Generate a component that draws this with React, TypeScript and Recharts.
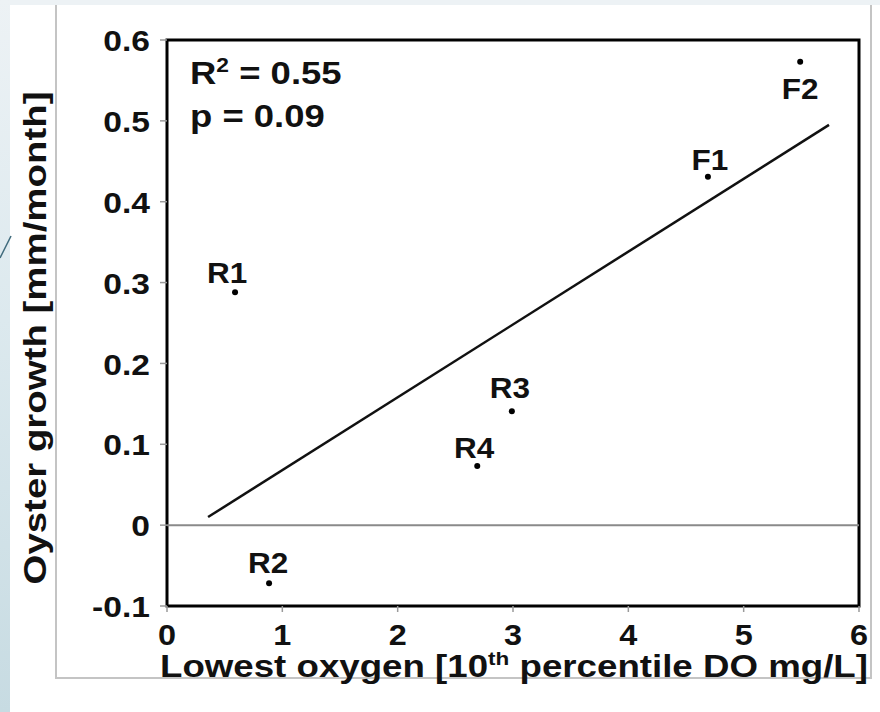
import React from "react";
import { ComposedChart, Scatter, XAxis, YAxis, ReferenceLine, ReferenceArea } from "recharts";

// sites and their values
const sites = ["R1", "R2", "R3", "R4", "F1", "F2"];
const lowestOxygen = [0.59, 0.885, 2.99, 2.69, 4.69, 5.49];
const oysterGrowth = [0.288, -0.072, 0.141, 0.073, 0.431, 0.573];

// least-squares fit line end points
const fitX = [0.356, 5.74];
const fitY = [0.01, 0.495];

const xTicks = [0, 1, 2, 3, 4, 5, 6];
const yTicks = [-0.1, 0, 0.1, 0.2, 0.3, 0.4, 0.5, 0.6];

const rSquared = "0.55";
const pValue = "0.09";

const points = sites.map((name, i) => ({ name, x: lowestOxygen[i], y: oysterGrowth[i] }));

// where each site label sits relative to its dot (dx, dy of baseline)
const labelOffset: Record<string, [number, number]> = {
  R1: [-8, -9],
  R2: [-1, -10],
  R3: [-2, -13],
  R4: [-3, -8],
  F1: [2, -7],
  F2: [0, 37],
};

const FONT = '"Liberation Sans", Arial, sans-serif';

const SiteDot = (props: any) => {
  const { cx, cy, payload } = props;
  const [dx, dy] = labelOffset[payload.name] || [0, -10];
  return (
    <g>
      <circle cx={cx} cy={cy} r={3} fill="#000" />
      <g transform={`translate(${cx + dx},${cy + dy}) scale(1.05,1)`}>
        <text x={0} y={0} textAnchor="middle" fontFamily={FONT} fontWeight="bold" fontSize={30} fill="#111">
          {payload.name}
        </text>
      </g>
    </g>
  );
};

const YTick = (props: any) => {
  const { x, y, payload } = props;
  const v = payload.value;
  const s = v === 0 ? "0" : v.toFixed(1);
  return (
    <g transform={`translate(${x},${y}) scale(1.12,1)`}>
      <text x={0} y={0} dy="0.37em" textAnchor="end" fontFamily={FONT} fontWeight="bold" fontSize={30} fill="#111">
        {s}
      </text>
    </g>
  );
};

const XTick = (props: any) => {
  const { x, y, payload } = props;
  return (
    <g transform={`translate(${x},${y}) scale(1.08,1)`}>
      <text x={0} y={0} dy="0.71em" textAnchor="middle" fontFamily={FONT} fontWeight="bold" fontSize={30} fill="#111">
        {payload.value}
      </text>
    </g>
  );
};

const StatsLabel = (props: any) => {
  const { viewBox } = props;
  const x = viewBox.x + 23;
  const y = viewBox.y;
  return (
    <g fontFamily={FONT} fontWeight="bold" fill="#111">
      <g transform={`translate(${x},${y + 44}) scale(1.14,1)`}>
        <text x={0} y={0} fontSize={32}>
          R<tspan fontSize={20} dy={-12}>2</tspan>
          <tspan dy={12}> = {rSquared}</tspan>
        </text>
      </g>
      <g transform={`translate(${x},${y + 87}) scale(1.14,1)`}>
        <text x={0} y={0} fontSize={32}>
          p = {pValue}
        </text>
      </g>
    </g>
  );
};

const XTitle = () => (
  <text x={160} y={677} textLength={708} lengthAdjust="spacingAndGlyphs" fontFamily={FONT} fontWeight="bold" fontSize={31} fill="#111">
    Lowest oxygen [10<tspan fontSize={19} dy={-12}>th</tspan>
    <tspan dy={12}> percentile DO mg/L]</tspan>
  </text>
);

const YTitle = () => (
  <text
    x={46}
    y={338}
    transform="rotate(-90, 46, 338)"
    textAnchor="middle"
    textLength={493}
    lengthAdjust="spacingAndGlyphs"
    fontFamily={FONT}
    fontWeight="bold"
    fontSize={32}
    fill="#111"
  >
    Oyster growth [mm/month]
  </text>
);

export default function App() {
  return (
    <div style={{ position: "absolute", left: 0, top: 0, width: 880, height: 712, background: "#fff", overflow: "hidden" }}>
      {/* slide background around the pasted figure */}
      <div style={{ position: "absolute", left: 0, top: 0, width: 880, height: 5, background: "#edf2f5" }} />
      <div
        style={{
          position: "absolute",
          left: 0,
          top: 0,
          width: 10,
          height: 712,
          background: "linear-gradient(to bottom, #edf2f5 0%, #dce9ee 45%, #c7dbe2 100%)",
        }}
      />
      <svg width={14} height={712} style={{ position: "absolute", left: 0, top: 0 }}>
        <line x1={0} y1={258} x2={11} y2={236} stroke="#3f6b7c" strokeWidth={1.5} />
      </svg>
      {/* grey frame of the figure */}
      <div style={{ position: "absolute", left: 55, top: 5, width: 1.5, height: 673, background: "#c4c4c4" }} />
      <div style={{ position: "absolute", left: 55, top: 677, width: 816, height: 1.5, background: "#c4c4c4" }} />
      <div style={{ position: "absolute", left: 870, top: 5, width: 1.5, height: 674, background: "#c4c4c4" }} />

      <div style={{ position: "absolute", left: 0, top: 0 }}>
        <ComposedChart width={880} height={712} margin={{ top: 40, right: 21, bottom: 46, left: 67 }}>
          <XAxis
            type="number"
            dataKey="x"
            domain={[0, 6]}
            ticks={xTicks}
            interval={0}
            axisLine={false}
            tickSize={6}
            tickMargin={12}
            tickLine={{ stroke: "#9a9a9a", strokeWidth: 1.5 }}
            tick={XTick}
            height={60}
          />
          <YAxis
            type="number"
            dataKey="y"
            domain={[-0.1, 0.6]}
            ticks={yTicks}
            interval={0}
            axisLine={false}
            tickSize={7}
            tickMargin={10}
            tickLine={{ stroke: "#9a9a9a", strokeWidth: 1.5 }}
            tick={YTick}
            width={100}
          />
          <ReferenceArea
            x1={0}
            x2={6}
            y1={-0.1}
            y2={0.6}
            fill="none"
            fillOpacity={0}
            stroke="#000"
            strokeWidth={3}
            ifOverflow="visible"
            label={StatsLabel}
          />
          <ReferenceLine y={0} stroke="#8a8a8a" strokeWidth={2} />
          <ReferenceLine
            segment={[
              { x: fitX[0], y: fitY[0] },
              { x: fitX[1], y: fitY[1] },
            ]}
            stroke="#111"
            strokeWidth={2.5}
            ifOverflow="visible"
          />
          <Scatter data={points} dataKey="y" shape={SiteDot} isAnimationActive={false} />
          <XTitle />
          <YTitle />
        </ComposedChart>
      </div>
    </div>
  );
}
